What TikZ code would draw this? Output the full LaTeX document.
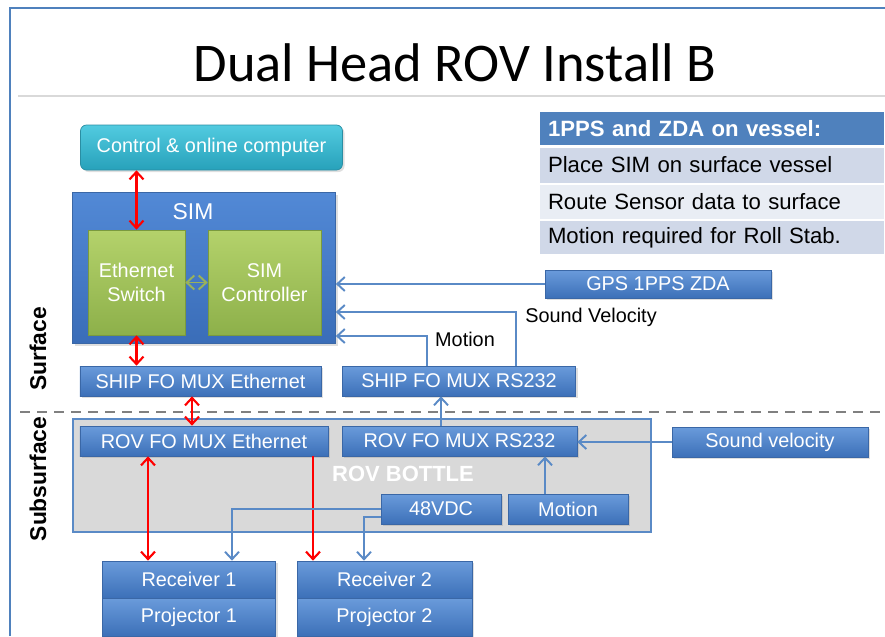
\documentclass[tikz,border=0pt]{standalone}
\usepackage{fontspec}
\setmainfont{Liberation Sans}
\newfontfamily\headfont{Carlito}
\usetikzlibrary{arrows.meta,shadows}
\definecolor{rovtop}{HTML}{6A9BDB}
\definecolor{rovbot}{HTML}{3C70B8}
\definecolor{rovedge}{HTML}{3A67A6}
\definecolor{rovline}{HTML}{5A8AC6}
\definecolor{simtop}{HTML}{5289D6}
\definecolor{simbot}{HTML}{3A6DB8}
\definecolor{brdtop}{HTML}{B4D26B}
\definecolor{brdbot}{HTML}{8DB04A}
\definecolor{brdedge}{HTML}{7A9A3E}
\definecolor{ctltop}{HTML}{52CBE0}
\definecolor{ctlbot}{HTML}{27A1BA}
\definecolor{ctledge}{HTML}{2A8EA3}
\definecolor{tblhead}{HTML}{4F81BD}
\definecolor{tbldark}{HTML}{D0D8E8}
\definecolor{tbllight}{HTML}{E9EDF4}

\begin{document}
\begin{tikzpicture}[x=0.2mm,y=-0.2mm,>={Straight Barb[length=1.5mm,width=2.8mm]},
  unit/.style={draw=rovedge,top color=rovtop,bottom color=rovbot,text=white,
    font=\fontsize{11.3}{13}\selectfont,inner sep=0pt,minimum height=6mm,
    drop shadow={opacity=0.25,shadow xshift=0.4mm,shadow yshift=-0.4mm}},
  board/.style={draw=brdedge,top color=brdtop,bottom color=brdbot,text=white,
    align=center,font=\fontsize{11.3}{13.6}\selectfont,inner sep=0pt,minimum height=21mm},
  row/.style={text width=65.6mm,inner xsep=1.6mm,inner ysep=0pt,align=left,
    font=\fontsize{12.6}{14}\selectfont},
  side/.style={rotate=90,font=\fontsize{13}{15}\selectfont\bfseries},
  link/.style={->,line width=1.1pt,rovline},
  wire/.style={line width=1.2pt,red}]
  \useasboundingbox (0,0) rectangle (885,636);
  % frame and title
  \draw[tblhead,line width=0.9pt] (10,636) |- (885,8);
  \node[font=\headfont\fontsize{31}{34}\selectfont] (title) at (455,63) {Dual Head ROV Install B};
  \draw[black!15,line width=1.2pt] (18,96) -- (885,96);
  % notes
  \node[row,fill=tblhead,text=white,font=\fontsize{12.6}{14}\selectfont\bfseries,minimum height=6.6mm] (n0) at (712,128.5) {1PPS and ZDA on vessel:};
  \node[row,fill=tbldark,minimum height=7mm] (n1) at (712,165) {Place SIM on surface vessel};
  \node[row,fill=tbllight,minimum height=6.8mm] (n2) at (712,202) {Route Sensor data to surface};
  \node[row,fill=tbldark,minimum height=6.6mm] (n3) at (712,237.5) {Motion required for Roll Stab.};
  % surface
  \node[draw=ctledge,top color=ctltop,bottom color=ctlbot,rounded corners=1.2mm,text=white,
    font=\fontsize{11.3}{13}\selectfont,minimum width=52.4mm,minimum height=9mm,
    drop shadow={opacity=0.25,shadow xshift=0.4mm,shadow yshift=-0.4mm}] (ctrl) at (211.5,147.5) {Control \& online computer};
  \node[draw=rovedge,top color=simtop,bottom color=simbot,minimum width=52.6mm,minimum height=30.2mm,
    drop shadow={opacity=0.25,shadow xshift=0.5mm,shadow yshift=-0.5mm}] (sim) at (204,267.5) {};
  \node[text=white,font=\fontsize{13}{15}\selectfont] (simtxt) at (193,212) {SIM};
  \node[board,minimum width=19.4mm] (ethsw) at (136.5,282.5) {Ethernet\\Switch};
  \node[board,minimum width=22.6mm] (simctl) at (264.5,282.5) {SIM\\Controller};
  \node[unit,minimum width=45.2mm,minimum height=5.6mm] (gps) at (658,284) {GPS 1PPS ZDA};
  \node[unit,minimum width=48.2mm] (shipeth) at (200.5,381) {SHIP FO MUX Ethernet};
  \node[unit,minimum width=46.6mm] (shiprs) at (459,381) {SHIP FO MUX RS232};
  \node (svtxt) at (591,317) {\fontsize{11.3}{13}\selectfont Sound Velocity};
  \node (mottxt) at (465,339) {\fontsize{11.3}{13}\selectfont Motion};
  \node[side] (surf) at (38,349) {Surface};
  % subsurface
  \draw[black!50,dashed,dash pattern=on 2mm off 1.4mm,line width=0.9pt] (20,412) -- (885,412);
  \node[side] (subsurf) at (38,479) {Subsurface};
  \node[draw=rovline,fill=black!15,line width=0.9pt,minimum width=115.6mm,minimum height=22.6mm] (bottle) at (362,475.5) {};
  \node[text=white,font=\fontsize{12.5}{14}\selectfont\bfseries] (bottletxt) at (403,474) {ROV BOTTLE};
  \node[unit,minimum width=49.6mm] (roveth) at (204,441) {ROV FO MUX Ethernet};
  \node[unit,minimum width=47mm] (rovrs) at (459.5,441) {ROV FO MUX RS232};
  \node[unit,minimum width=39.2mm] (sndvel) at (770,442) {Sound velocity};
  \node[unit,minimum width=24mm] (vdc) at (441,509) {48VDC};
  \node[unit,minimum width=24mm] (motbox) at (568,509) {Motion};
  \node[unit,minimum width=34.6mm,minimum height=7.4mm] (rx1) at (189,579.5) {Receiver 1};
  \node[unit,minimum width=34.6mm,minimum height=7.6mm] (pj1) at (189,617) {Projector 1};
  \node[unit,minimum width=35mm,minimum height=7.4mm] (rx2) at (384.5,579.5) {Receiver 2};
  \node[unit,minimum width=35mm,minimum height=7.6mm] (pj2) at (384.5,617) {Projector 2};
  % links
  \draw[wire,<->] (ethsw.north) -- (ethsw.north |- ctrl.south);
  \draw[wire,<->] (ethsw.south) -- (ethsw.south |- shipeth.north);
  \draw[<->,line width=1.1pt,brdtop!85!black] (ethsw.east) -- (simctl.west);
  \draw[link] (gps.west) -- (sim.east |- gps.west);
  \draw[link] ([xshift=11.4mm]shiprs.north) |- ([yshift=-8.9mm]sim.east);
  \draw[link] ([xshift=-6.4mm]shiprs.north) |- ([yshift=-13.7mm]sim.east);
  \draw[link] ([xshift=-3.7mm]rovrs.north) -- ([xshift=-3.7mm]rovrs.north |- shiprs.south);
  \draw[wire,<->] ([xshift=-1.7mm]shipeth.south) -- ([xshift=-1.7mm]shipeth.south |- roveth.north);
  \draw[link] (sndvel.west) -- (rovrs.east |- sndvel.west);
  \draw[link] ([xshift=-4.6mm]motbox.north) -- ([xshift=-4.6mm]motbox.north |- rovrs.south);
  \draw[wire,<->] ([xshift=-11.2mm]roveth.south) -- ([xshift=-11.2mm]roveth.south |- rx1.north);
  \draw[wire,->] ([xshift=21.8mm]roveth.south) -- ([xshift=21.8mm]roveth.south |- rx2.north);
  \draw[link] (vdc.west) -| ([xshift=8.6mm]rx1.north);
  \draw[link] ([yshift=-1.6mm]vdc.west) -| ([xshift=-4.1mm]rx2.north);
\end{tikzpicture}
\end{document}
